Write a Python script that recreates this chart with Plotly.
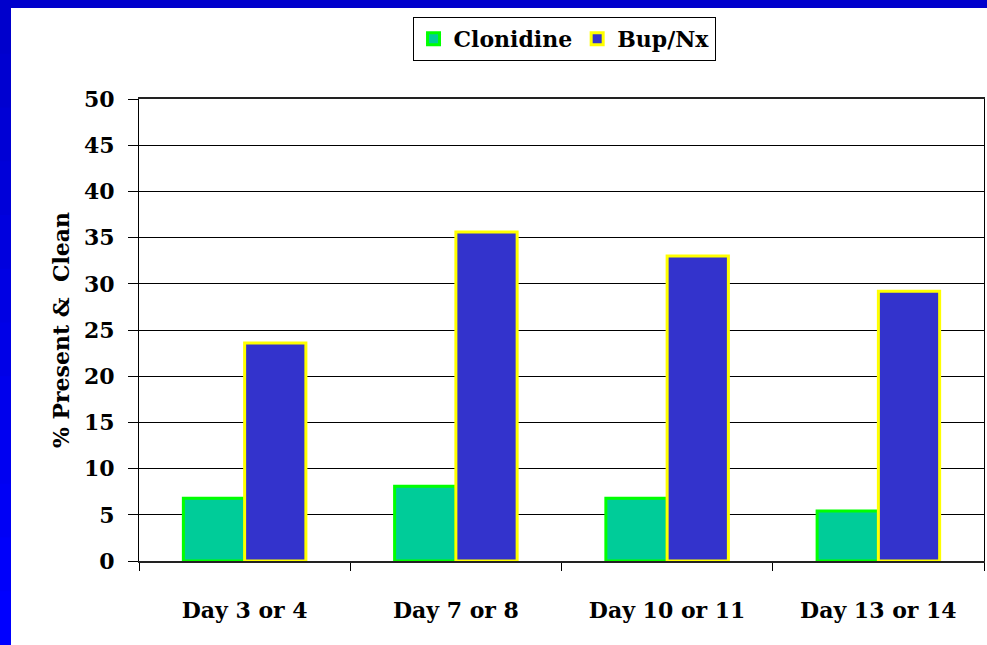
import plotly.graph_objects as go

categories = ["Day 3 or 4", "Day 7 or 8", "Day 10 or 11", "Day 13 or 14"]
clonidine = [6.8, 8.1, 6.8, 5.4]
bup_nx = [23.6, 35.6, 33.0, 29.2]
y_ticks = [0, 5, 10, 15, 20, 25, 30, 35, 40, 45, 50]

FONT = "DejaVu Serif"
FS = 22

W, H = 987, 645
ML, MR, MT, MB = 139, 3, 99, 84
PW, PH = W - ML - MR, H - MT - MB

def px_x(p):
    return (p - ML) / PW

def px_y(p):
    return (H - MB - p) / PH

fig = go.Figure()
fig.add_trace(go.Bar(
    name="Clonidine", x=categories, y=clonidine,
    marker=dict(color="#00CC99", line=dict(color="#00FF00", width=3)),
))
fig.add_trace(go.Bar(
    name="Bup/Nx", x=categories, y=bup_nx,
    marker=dict(color="#3333CC", line=dict(color="#FFFF00", width=3)),
))

shapes = []
# top border
shapes.append(dict(type="rect", xref="paper", yref="paper",
                   x0=px_x(0), x1=px_x(W), y0=px_y(8), y1=px_y(-2),
                   fillcolor="#0000CC", line=dict(width=0)))
# left border with a gradient from dark to bright blue
n = 12
for i in range(n):
    t = i / (n - 1)
    b = int(0xCC + (0xFF - 0xCC) * t)
    shapes.append(dict(type="rect", xref="paper", yref="paper",
                       x0=px_x(-2), x1=px_x(11),
                       y0=px_y(H * (i + 1) / n + 1), y1=px_y(H * i / n),
                       fillcolor=f"#0000{b:02X}", line=dict(width=0)))

fig.update_layout(
    width=W, height=H,
    margin=dict(l=ML, r=MR, t=MT, b=MB),
    paper_bgcolor="white", plot_bgcolor="white",
    barmode="group", bargap=0.42, bargroupgap=0,
    font=dict(family=FONT, size=FS, color="black", weight="bold"),
    legend=dict(orientation="h", x=0.503, xanchor="center", y=px_y(17), yanchor="top",
                bordercolor="black", borderwidth=1, bgcolor="white",
                font=dict(family=FONT, size=FS, color="black", weight="bold"),
                itemclick=False, tracegroupgap=0),
    shapes=shapes,
    xaxis=dict(type="category", tickson="boundaries", ticks="outside", ticklen=8,
               tickcolor="black", showline=True, linecolor="#222222", linewidth=2,
               mirror=True, showgrid=False,
               ticklabelstandoff=29,
               tickfont=dict(family=FONT, size=FS, color="black", weight="bold")),
    yaxis=dict(range=[0, 50], tickvals=y_ticks, ticks="outside", ticklen=10,
               tickcolor="black", showline=True, linecolor="black", linewidth=1,
               mirror=True, showgrid=True, gridcolor="black", gridwidth=1,
               zeroline=False, ticklabelstandoff=9,
               tickfont=dict(family=FONT, size=FS, color="black", weight="bold"),
               title=dict(text="% Present &  Clean", standoff=8,
                          font=dict(family=FONT, size=FS, color="black", weight="bold"))),
)

fig.write_html("out.html", config={"displayModeBar": False},
               post_script="document.body.style.margin='0';document.body.style.overflow='hidden';")
